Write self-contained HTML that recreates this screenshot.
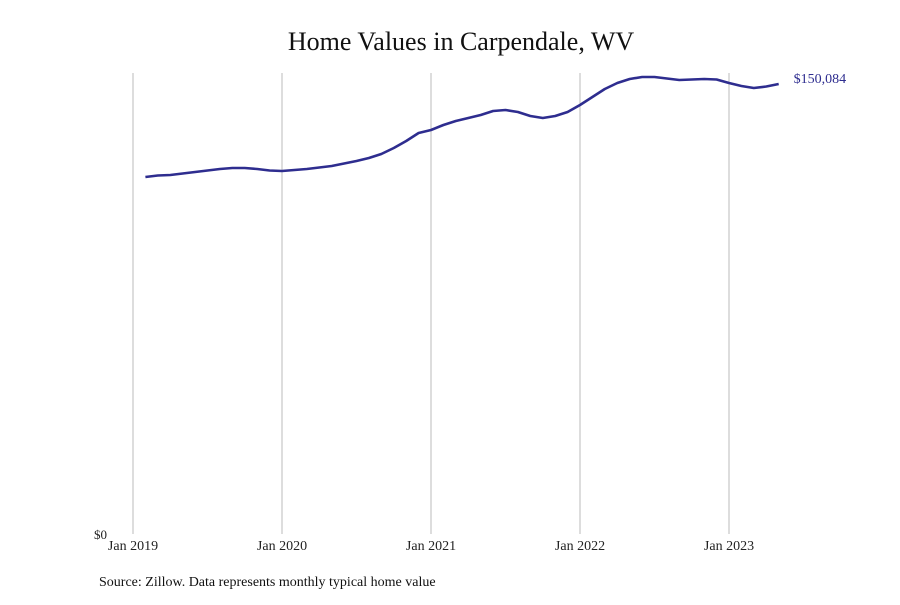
<!DOCTYPE html>
<html><head><meta charset="utf-8"><style>
body{margin:0;background:#fff;width:900px;height:600px;overflow:hidden;font-family:"Liberation Serif",serif}
</style></head><body>
<svg width="900" height="600" style="font-family:'Liberation Serif',serif">
<text x="461" y="50" text-anchor="middle" font-size="26" fill="#111">Home Values in Carpendale, WV</text>
<g id="grid"></g>
<g id="xt"></g>
<text x="94" y="539" font-size="13" fill="#222">$0</text>
<path id="line" fill="none" stroke="#2e2d8f" stroke-width="2.6" stroke-linejoin="round"></path>
<text id="endlabel" font-size="14" fill="#2e2d8f"></text>
<text x="99" y="586" font-size="14" fill="#111">Source: Zillow. Data represents monthly typical home value</text>
</svg>
<script>
const startMonth = 1; // months after Jan 2019
const values = [119060,119560,119730,120230,120730,121230,121730,122060,122060,121730,
121230,121060,121400,121730,122230,122730,123560,124400,125400,126730,
128730,131060,133730,134730,136400,137730,138730,139730,141070,141400,
140730,139400,138730,139400,140730,143070,145730,148400,150400,151740,
152400,152400,151900,151400,151570,151740,151570,150400,149400,148730,
149240,150084];
const yearLabels = ["Jan 2019","Jan 2020","Jan 2021","Jan 2022","Jan 2023"];
const NS="http://www.w3.org/2000/svg";
const x = m => 133 + m*149/12;
const y = v => 534 - v*461/153744;
const grid=document.getElementById('grid'), xt=document.getElementById('xt');
yearLabels.forEach((lab,i)=>{
  const gx=x(i*12);
  const l=document.createElementNS(NS,'line');
  l.setAttribute('x1',gx);l.setAttribute('x2',gx);l.setAttribute('y1',73);l.setAttribute('y2',534);
  l.setAttribute('stroke','#bbb');l.setAttribute('stroke-width','1');
  
  
  grid.appendChild(l);
  const t=document.createElementNS(NS,'text');
  t.setAttribute('x',gx);t.setAttribute('y',550);t.setAttribute('text-anchor','middle');
  t.setAttribute('font-size','14');t.setAttribute('fill','#222');t.textContent=lab;
  
  
  xt.appendChild(t);
});
let d='';
values.forEach((v,i)=>{d+=(i?'L':'M')+x(startMonth+i).toFixed(1)+','+y(v).toFixed(1);});
document.getElementById('line').setAttribute('d',d);
const last=values[values.length-1], el=document.getElementById('endlabel');
el.setAttribute('x',x(startMonth+values.length-1)+15);
el.setAttribute('y',y(last)-1);
el.textContent='$'+last.toLocaleString('en-US');
</script>
</body></html>
